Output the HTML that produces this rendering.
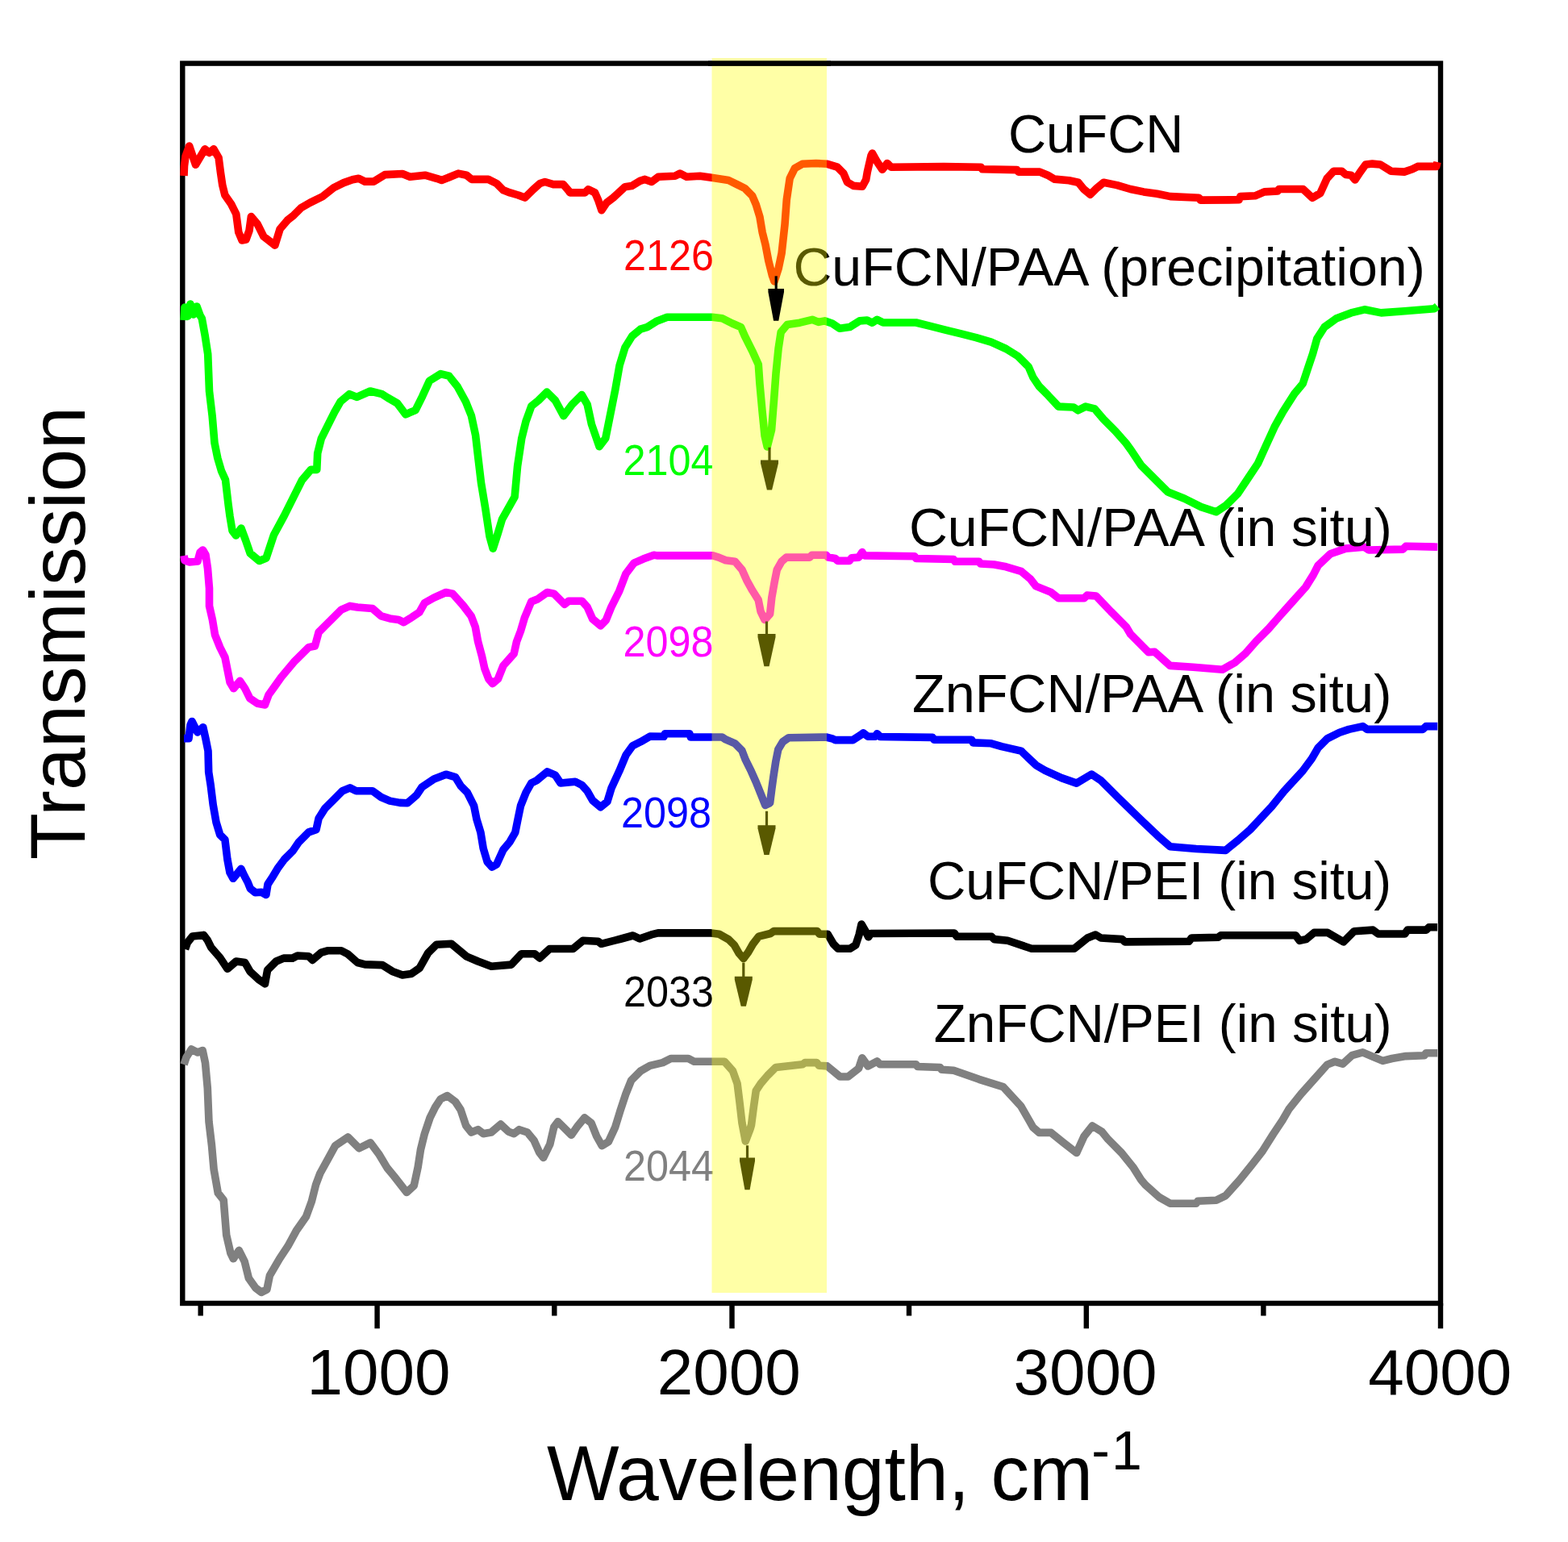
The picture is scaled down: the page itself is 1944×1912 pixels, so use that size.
<!DOCTYPE html>
<html><head><meta charset="utf-8"><title>FTIR spectra</title>
<style>html,body{margin:0;padding:0;background:#fff;} svg{display:block;}</style></head>
<body>
<svg width="1944" height="1912" viewBox="0 0 1944 1912">
<rect width="1944" height="1912" fill="#fff"/>

<g stroke="#000" stroke-width="6.4" fill="none" stroke-linecap="butt">
<rect x="226.3" y="78.6" width="1559.7" height="1537.4" stroke-linejoin="miter"/>
<line x1="248.7" y1="1616" x2="248.7" y2="1631.5"/>
<line x1="467.6" y1="1616" x2="467.6" y2="1647.3"/>
<line x1="687.3" y1="1616" x2="687.3" y2="1631.5"/>
<line x1="907.5" y1="1616" x2="907.5" y2="1647.3"/>
<line x1="1127" y1="1616" x2="1127" y2="1631.5"/>
<line x1="1346.8" y1="1616" x2="1346.8" y2="1647.3"/>
<line x1="1566.4" y1="1616" x2="1566.4" y2="1631.5"/>
<line x1="1786" y1="1616" x2="1786" y2="1647.3"/>
</g>

<polyline points="228.0,218.0 228.5,206.0 230.0,194.0 234.7,181.0 242.5,204.2 254.1,184.8 259.5,189.4 264.9,184.8 271.1,195.6 273.5,214.2 275.8,229.7 278.9,242.1 286.6,253.0 292.8,265.4 295.8,288.0 300.0,298.0 305.0,297.0 309.0,286.0 311.4,268.5 319.2,277.8 326.9,293.3 340.9,304.1 347.1,284.0 356.4,273.1 364.1,266.9 373.4,257.6 384.3,251.4 399.8,243.7 413.7,232.8 426.1,226.6 437.0,222.8 444.7,221.2 452.4,225.1 463.3,225.1 477.2,216.6 498.9,215.5 508.3,219.3 526.9,217.2 541.3,221.3 547.5,223.4 555.8,220.3 568.2,215.1 578.5,217.2 584.7,222.4 605.4,222.4 615.7,227.5 624.0,235.8 632.2,238.9 642.6,242.0 650.8,245.1 661.2,234.8 669.4,227.5 675.6,225.5 686.0,228.6 698.3,228.6 704.5,235.8 706.6,238.9 725.2,238.9 729.3,234.8 737.6,238.9 741.7,248.2 745.9,260.6 752.1,251.3 760.3,245.1 774.8,231.7 783.1,230.6 793.4,224.4 799.6,222.4 807.9,225.5 816.1,219.3 836.8,218.2 843.0,215.1 851.2,219.3 867.8,218.2 882.2,220.3 903.2,223.5 914.1,228.9 923.4,233.5 932.7,242.8 937.3,253.7 942.0,269.2 945.1,287.8 949.0,303.3 952.8,323.4 957.5,342.0 960.0,349.0 965.2,332.7 969.1,314.1 973.0,278.5 975.3,247.5 979.2,221.1 985.4,208.7 994.7,203.3 1011.7,202.5 1025.7,203.3 1038.1,207.2 1045.8,214.9 1050.5,225.8 1058.2,230.4 1069.1,231.2 1073.7,222.7 1075.3,213.4 1079.9,193.2 1081.5,190.0 1087.7,201.0 1093.9,210.3 1100.0,202.5 1104.7,207.2 1170.0,206.6 1216.3,207.3 1217.9,209.8 1260.9,210.6 1262.6,213.1 1289.0,213.1 1298.9,217.2 1307.2,222.1 1325.4,223.8 1336.9,226.3 1343.6,234.5 1351.8,241.2 1360.1,232.9 1368.3,226.3 1384.9,229.6 1401.4,234.5 1417.9,237.9 1434.5,240.3 1451.0,243.6 1486.5,245.3 1488.2,248.1 1536.1,247.8 1537.8,243.6 1556.0,242.8 1567.5,237.9 1584.0,237.0 1585.7,234.5 1615.5,234.5 1627.0,245.3 1636.9,239.5 1645.2,221.3 1653.5,212.2 1663.4,212.2 1668.3,216.4 1675.0,217.2 1679.9,223.0 1686.5,213.1 1693.1,204.0 1701.4,203.1 1711.3,204.0 1724.5,212.2 1741.1,213.1 1751.0,209.8 1757.6,206.4 1780.7,206.4 1782.0,201.0" fill="none" stroke="#ff0000" stroke-width="9.6" stroke-linejoin="round" stroke-linecap="butt"/>
<polyline points="228.0,397.0 229.0,381.0 233.0,392.0 236.0,377.0 240.0,390.0 244.0,380.0 248.0,391.0 250.3,394.9 254.0,415.1 257.7,439.0 259.5,485.0 263.2,516.3 266.0,549.3 269.8,568.0 274.5,584.0 279.5,595.0 283.0,625.0 285.0,640.0 288.0,658.0 292.6,664.0 299.0,655.0 304.6,670.0 310.1,686.0 321.5,695.5 330.0,692.0 339.5,663.3 352.4,639.4 363.4,617.4 374.4,595.3 385.4,582.4 392.8,582.4 393.7,562.2 398.3,543.8 407.5,525.4 414.9,510.7 422.2,497.9 433.2,488.7 442.4,492.4 459.0,485.0 473.7,488.7 480.4,493.0 492.5,500.0 502.9,513.8 515.1,508.6 523.7,491.3 532.4,472.3 546.3,463.6 556.7,466.2 567.1,479.2 577.5,498.2 584.4,515.6 589.6,539.8 593.0,569.3 596.5,598.8 601.7,630.0 606.9,664.6 611.2,680.2 617.3,661.2 622.5,643.8 638.1,616.1 641.6,578.0 646.8,543.3 652.0,522.5 658.9,503.4 667.6,496.5 678.0,486.1 688.4,496.5 698.8,515.6 709.2,501.7 721.3,489.6 728.2,501.7 733.4,526.0 743.0,553.7 750.8,543.3 756.0,517.3 762.9,482.6 768.1,453.2 775.0,430.7 783.7,416.8 794.1,408.1 802.4,405.6 814.8,397.9 827.2,393.2 883.0,393.2 895.4,394.8 907.8,401.0 918.6,405.6 923.3,416.5 932.6,435.1 940.3,452.1 941.9,475.4 945.0,509.5 948.1,540.5 951.2,554.0 956.6,532.7 959.7,494.0 962.0,463.0 965.1,432.0 968.2,411.8 976.0,402.5 991.5,400.2 1007.0,396.3 1014.7,399.4 1022.4,397.9 1031.7,401.0 1041.0,407.2 1053.4,405.6 1065.8,397.9 1075.1,397.1 1081.3,400.2 1087.4,396.3 1094.9,400.0 1135.8,400.0 1154.4,404.6 1173.0,409.3 1191.6,413.9 1210.2,418.6 1228.8,424.2 1247.3,432.5 1262.2,441.8 1275.2,454.8 1280.8,467.8 1288.3,479.0 1299.4,490.2 1312.4,504.1 1331.0,505.0 1336.6,508.8 1345.9,504.1 1357.1,506.9 1368.2,519.9 1383.1,534.8 1396.1,549.7 1402.4,558.3 1414.8,577.0 1431.3,593.5 1447.9,610.0 1468.5,618.3 1489.2,628.6 1507.8,634.8 1520.2,626.5 1534.6,612.1 1547.0,593.5 1559.4,574.9 1569.8,552.1 1580.1,529.4 1590.4,510.8 1604.9,488.1 1615.2,475.7 1621.4,457.1 1627.6,438.5 1632.8,419.9 1642.1,405.5 1656.5,395.1 1675.1,387.9 1691.7,383.8 1712.3,387.9 1741.2,385.8 1778.4,382.7 1782.0,379.6" fill="none" stroke="#00ff00" stroke-width="9.6" stroke-linejoin="round" stroke-linecap="butt"/>
<polyline points="228.0,689.0 229.0,695.0 235.0,697.0 245.0,696.0 248.0,685.0 251.5,682.0 255.0,688.0 257.5,705.0 259.5,729.7 259.5,751.4 263.4,768.5 266.5,787.1 272.7,802.6 278.9,815.0 282.0,830.5 285.1,846.0 289.7,853.7 297.5,844.4 303.7,853.7 309.9,866.1 319.2,872.3 328.5,873.9 333.1,861.5 340.9,850.6 348.6,839.8 364.1,821.2 382.7,802.6 390.5,801.0 395.1,784.0 402.9,776.2 412.2,766.9 423.0,756.1 433.9,751.4 443.2,753.0 461.7,754.5 472.6,763.8 483.4,766.9 494.3,768.5 500.5,771.6 508.2,766.9 519.8,759.3 526.4,747.7 538.0,741.1 552.9,734.5 561.2,736.1 574.4,751.0 584.3,764.2 589.3,777.4 592.6,795.6 597.5,813.8 600.8,828.7 605.8,841.9 610.7,847.7 617.4,841.9 624.0,825.4 637.2,810.5 640.5,795.6 645.5,782.4 650.4,765.9 658.7,746.0 666.9,742.7 678.5,734.5 686.8,736.1 700.0,749.3 705.0,745.2 721.5,745.2 728.1,752.6 734.7,767.5 744.6,775.8 751.2,769.2 757.9,752.6 767.8,732.8 776.0,711.3 786.0,698.1 797.5,693.1 810.7,688.2 814.3,688.9 883.8,688.9 891.0,691.1 899.7,694.7 911.2,696.2 919.9,706.3 925.7,719.3 932.9,732.3 940.2,743.9 943.1,758.4 948.1,768.5 954.6,761.2 956.8,741.0 960.4,720.7 963.3,706.3 969.1,696.2 974.9,691.1 1003.8,691.1 1006.7,688.2 1024.1,688.2 1026.9,691.1 1035.6,692.5 1038.5,695.4 1053.0,695.4 1055.9,691.8 1064.6,691.1 1068.9,684.6 1071.8,688.9 1133.9,689.8 1135.8,692.5 1182.3,693.5 1184.1,696.3 1213.9,696.3 1215.7,699.0 1232.5,700.0 1247.3,702.8 1265.9,708.3 1277.1,717.6 1284.5,726.9 1303.1,734.4 1312.4,741.8 1344.0,741.8 1347.8,738.1 1358.9,739.0 1377.5,758.5 1396.1,777.1 1401.7,786.4 1424.0,808.8 1431.5,808.2 1450.6,825.4 1479.3,827.3 1515.6,830.2 1530.9,821.6 1544.2,810.1 1557.6,794.8 1572.9,779.5 1586.3,764.2 1601.6,747.0 1618.8,727.9 1628.3,712.6 1634.1,701.2 1649.4,686.8 1668.5,680.1 1691.4,678.2 1697.1,682.0 1739.2,681.1 1743.0,677.3 1782.2,678.2" fill="none" stroke="#ff00ff" stroke-width="9.6" stroke-linejoin="round" stroke-linecap="butt"/>
<polyline points="228.0,915.6 234.0,915.6 236.0,899.0 238.0,894.5 244.8,907.9 251.8,901.7 254.9,915.6 258.0,931.1 258.7,957.5 261.1,973.0 264.2,997.8 268.0,1019.5 272.7,1035.0 278.9,1041.2 281.9,1065.5 285.0,1082.0 289.1,1089.3 298.9,1077.4 303.1,1086.2 307.2,1093.9 310.3,1101.7 316.5,1106.8 324.2,1106.3 329.9,1109.5 332.0,1096.5 337.1,1088.7 344.9,1075.8 352.6,1065.5 363.0,1055.2 370.3,1044.3 382.7,1031.9 392.0,1028.8 395.1,1014.8 402.9,1002.4 413.7,991.6 424.6,980.7 433.9,976.9 441.6,980.7 461.7,980.7 472.6,988.5 483.4,993.1 495.8,995.4 505.0,995.8 516.5,985.9 523.1,976.0 538.0,966.0 552.9,960.2 564.5,963.6 571.1,974.3 579.3,982.6 587.6,999.1 590.9,1015.6 595.9,1032.1 599.2,1052.0 604.1,1068.5 609.9,1075.1 615.7,1071.8 624.0,1053.6 632.2,1043.7 638.8,1032.1 642.1,1015.6 645.5,999.1 652.1,982.6 658.7,971.0 665.3,967.7 678.5,956.9 688.4,961.1 695.0,971.0 713.2,969.3 721.5,973.5 728.1,980.9 734.7,992.5 744.6,1000.7 752.9,994.1 757.9,977.6 767.8,956.1 776.0,936.3 784.3,924.7 794.2,919.8 805.8,913.1 823.0,913.3 824.5,909.7 854.8,909.7 856.3,914.0 895.3,914.0 899.7,916.9 911.2,921.9 919.9,930.6 924.3,942.2 931.5,956.7 937.3,969.7 943.1,984.1 948.8,998.5 954.6,995.7 956.8,978.4 959.0,962.4 961.9,943.6 964.8,929.2 970.5,919.8 977.8,914.7 1024.1,914.0 1032.7,916.2 1035.6,917.6 1057.3,917.6 1067.4,911.1 1070.3,908.9 1076.1,913.3 1084.8,913.3 1087.4,909.8 1091.2,913.5 1156.2,914.4 1158.1,917.2 1204.6,917.2 1206.4,920.9 1228.8,921.8 1241.8,925.6 1265.9,931.1 1284.5,948.8 1295.7,955.3 1316.1,964.6 1334.7,971.1 1353.3,960.0 1364.5,967.4 1386.8,989.7 1414.7,1016.7 1435.3,1036.3 1450.6,1049.7 1483.1,1052.5 1519.4,1054.4 1534.7,1042.0 1550.0,1028.6 1576.7,1000.0 1592.0,980.9 1615.0,956.0 1626.4,940.7 1634.1,927.3 1645.5,915.9 1660.8,908.2 1672.3,904.4 1689.5,900.6 1695.2,904.4 1764.0,904.4 1767.9,900.6 1782.2,900.6" fill="none" stroke="#0000ff" stroke-width="9.6" stroke-linejoin="round" stroke-linecap="butt"/>
<polyline points="229.5,1177.0 232.4,1168.7 238.6,1161.0 252.5,1159.4 257.2,1165.6 261.8,1174.9 272.7,1187.3 282.0,1201.3 292.8,1192.0 303.7,1193.5 309.9,1204.4 320.7,1214.5 328.5,1219.9 331.6,1202.8 342.4,1192.0 351.7,1188.1 362.6,1188.1 368.8,1185.0 382.7,1185.8 387.4,1190.4 398.2,1181.1 406.0,1178.8 423.0,1178.8 430.8,1182.7 443.2,1193.5 452.4,1195.9 474.1,1196.6 486.5,1204.4 498.9,1209.0 509.8,1207.5 520.3,1200.2 530.7,1181.7 541.0,1171.3 559.6,1170.3 578.2,1185.8 592.6,1192.0 609.2,1198.2 634.0,1196.1 646.4,1182.7 662.9,1182.7 669.1,1187.9 681.5,1176.5 710.4,1176.5 722.8,1166.2 741.4,1167.2 745.5,1170.3 770.3,1164.0 784.8,1160.0 793.1,1164.0 807.5,1158.9 815.8,1156.9 881.9,1156.9 891.6,1158.2 903.1,1164.7 910.4,1171.9 916.2,1182.1 921.9,1188.5 927.7,1180.6 933.5,1170.5 940.7,1161.1 955.2,1157.5 959.5,1154.6 1013.1,1154.6 1016.0,1158.2 1026.1,1158.2 1033.3,1170.5 1039.1,1176.3 1053.6,1176.3 1060.8,1171.9 1065.1,1158.9 1068.0,1146.0 1073.8,1156.0 1076.7,1161.8 1079.6,1157.5 1183.1,1157.0 1186.4,1161.3 1229.3,1161.3 1232.6,1164.6 1249.2,1166.3 1278.9,1176.2 1331.8,1176.2 1348.3,1163.0 1358.3,1159.0 1364.9,1163.0 1391.3,1164.6 1394.6,1167.9 1474.0,1167.3 1477.3,1163.0 1510.3,1162.3 1513.6,1159.7 1606.2,1159.7 1611.2,1166.3 1619.4,1164.6 1629.3,1156.4 1645.9,1156.4 1665.7,1167.9 1678.9,1154.7 1702.1,1153.1 1708.7,1158.0 1741.7,1158.0 1745.0,1153.1 1768.2,1153.1 1771.5,1149.8 1782.0,1149.8" fill="none" stroke="#000000" stroke-width="9.6" stroke-linejoin="round" stroke-linecap="butt"/>
<polyline points="228.0,1320.0 231.0,1311.0 237.3,1301.0 245.0,1305.0 251.2,1302.5 254.5,1318.0 257.3,1349.3 259.0,1390.9 262.5,1420.4 265.1,1449.8 270.3,1479.3 277.2,1488.0 280.7,1531.3 285.9,1553.8 289.3,1560.8 296.3,1550.4 303.2,1564.2 308.4,1585.0 317.1,1597.2 324.0,1602.4 330.9,1598.9 334.4,1581.6 346.5,1560.8 356.9,1545.2 367.3,1526.1 379.4,1508.8 386.4,1489.7 391.6,1468.9 396.8,1455.0 405.4,1439.4 415.8,1420.4 431.4,1410.0 445.3,1423.8 459.2,1416.9 469.6,1430.8 480.0,1448.1 488.6,1458.5 504.2,1478.5 513.2,1470.2 518.2,1447.0 521.5,1425.5 526.4,1405.7 533.1,1385.9 539.7,1372.6 546.3,1362.7 554.5,1358.6 564.5,1366.0 571.1,1376.0 577.7,1395.8 584.3,1404.0 592.6,1400.7 599.2,1405.7 609.1,1404.0 620.7,1394.1 630.6,1403.2 637.2,1405.7 643.8,1400.7 653.7,1404.0 662.0,1414.0 668.6,1428.8 673.6,1435.5 681.8,1418.9 686.8,1397.4 691.7,1390.8 698.3,1397.4 708.3,1407.4 716.5,1395.8 724.8,1385.9 733.1,1392.5 739.7,1409.0 746.3,1420.6 754.5,1415.6 762.8,1397.4 769.4,1375.9 776.0,1356.1 782.6,1339.6 794.2,1328.0 805.8,1321.4 821.6,1317.6 831.7,1312.5 853.4,1312.5 860.6,1316.2 898.2,1316.2 908.4,1327.7 914.1,1343.6 917.0,1366.8 919.9,1392.0 924.3,1415.0 930.0,1400.0 931.5,1395.0 934.4,1372.6 937.3,1352.3 943.1,1343.6 951.7,1333.5 961.9,1323.4 995.1,1319.8 998.0,1317.6 1012.5,1317.6 1015.4,1321.2 1025.5,1321.9 1041.4,1335.0 1051.5,1335.0 1064.6,1324.8 1068.9,1311.8 1076.1,1321.9 1087.4,1316.0 1091.2,1319.8 1135.8,1319.8 1137.6,1322.5 1165.5,1323.5 1167.4,1326.3 1182.3,1327.2 1195.3,1331.8 1213.9,1338.3 1243.6,1347.6 1265.9,1371.8 1280.8,1397.8 1288.3,1404.4 1303.1,1404.4 1318.0,1416.4 1334.7,1429.5 1344.0,1409.0 1354.3,1396.0 1366.3,1403.4 1373.8,1412.7 1390.5,1429.5 1405.4,1448.1 1414.7,1462.9 1420.0,1469.2 1437.2,1484.5 1450.6,1492.2 1483.1,1492.2 1485.0,1489.3 1507.9,1488.3 1519.4,1482.6 1536.6,1463.5 1551.9,1444.4 1565.3,1427.2 1578.6,1406.1 1590.1,1388.9 1597.8,1375.6 1613.0,1356.5 1630.2,1337.3 1645.5,1320.1 1655.1,1316.3 1664.7,1319.2 1676.1,1308.7 1689.5,1304.8 1702.9,1310.6 1714.3,1315.4 1725.8,1312.5 1743.0,1309.6 1765.9,1308.7 1767.9,1305.8 1782.2,1305.8" fill="none" stroke="#808080" stroke-width="9.6" stroke-linejoin="round" stroke-linecap="butt"/>

<g font-family="'Liberation Sans', Arial, Helvetica, sans-serif" font-size="66" fill="#000">
<text x="1250" y="189" textLength="217.3" lengthAdjust="spacingAndGlyphs">CuFCN</text>
<text x="983.5" y="354" textLength="783.3" lengthAdjust="spacingAndGlyphs">CuFCN/PAA (precipitation)</text>
<text x="1127" y="676.7" textLength="598.8" lengthAdjust="spacingAndGlyphs">CuFCN/PAA (in situ)</text>
<text x="1131" y="883.2" textLength="594.3" lengthAdjust="spacingAndGlyphs">ZnFCN/PAA (in situ)</text>
<text x="1149.9" y="1114.8" textLength="575.3" lengthAdjust="spacingAndGlyphs">CuFCN/PEI (in situ)</text>
<text x="1157.7" y="1292" textLength="568" lengthAdjust="spacingAndGlyphs">ZnFCN/PEI (in situ)</text>
</g>
<g font-family="'Liberation Sans', Arial, Helvetica, sans-serif" font-size="53">
<text x="773" y="335.3" fill="#ff0000" textLength="112" lengthAdjust="spacingAndGlyphs">2126</text>
<text x="772.4" y="588.9" fill="#00ff00" textLength="112" lengthAdjust="spacingAndGlyphs">2104</text>
<text x="772.4" y="813.8" fill="#ff00ff" textLength="112" lengthAdjust="spacingAndGlyphs">2098</text>
<text x="770" y="1026.4" fill="#0000ff" textLength="112" lengthAdjust="spacingAndGlyphs">2098</text>
<text x="773" y="1247.6" fill="#000000" textLength="112" lengthAdjust="spacingAndGlyphs">2033</text>
<text x="773" y="1463.7" fill="#808080" textLength="112" lengthAdjust="spacingAndGlyphs">2044</text>
</g>

<line x1="954" y1="554.8" x2="954" y2="572.5" stroke="#000" stroke-width="3.2"/><polygon points="943.0,570.5 965.0,570.5 965.0,574.5 957.1,607.5 950.9,607.5 943.0,574.5" fill="#000"/>
<line x1="950.5" y1="770.5" x2="950.5" y2="788" stroke="#000" stroke-width="3.2"/><polygon points="939.5,786.0 961.5,786.0 961.5,790.0 953.6,826.2 947.4,826.2 939.5,790.0" fill="#000"/>
<line x1="950.5" y1="1005.8" x2="950.5" y2="1025.3" stroke="#000" stroke-width="3.2"/><polygon points="939.5,1023.3 961.5,1023.3 961.5,1027.3 953.6,1060.1 947.4,1060.1 939.5,1027.3" fill="#000"/>
<line x1="921.8" y1="1193.6" x2="921.8" y2="1212.7" stroke="#000" stroke-width="3.2"/><polygon points="910.8,1210.7 932.8,1210.7 932.8,1214.7 924.9,1247.8 918.7,1247.8 910.8,1214.7" fill="#000"/>
<line x1="926.5" y1="1420.3" x2="926.5" y2="1437.5" stroke="#000" stroke-width="3.2"/><polygon points="917.0,1435.5 936.0,1435.5 936.0,1439.5 929.6,1475.3 923.4,1475.3 917.0,1439.5" fill="#000"/>
<rect x="882.5" y="72" width="142.5" height="1531" fill="#ffff00" fill-opacity="0.35"/>
<line x1="878" y1="78.6" x2="1030" y2="78.6" stroke="#000" stroke-width="6.4"/>
<line x1="962.2" y1="342.3" x2="962.2" y2="360" stroke="#000" stroke-width="3.2"/><polygon points="952.4,358.0 972.0,358.0 972.0,362.0 965.3,397.7 959.1,397.7 952.4,362.0" fill="#000"/>

<g font-family="'Liberation Sans', Arial, Helvetica, sans-serif" font-size="80" fill="#000" text-anchor="middle">
<text x="469.6" y="1729.3">1000</text>
<text x="903.8" y="1729.3">2000</text>
<text x="1345.4" y="1729.3">3000</text>
<text x="1785.3" y="1729.3">4000</text>
</g>
<g font-family="'Liberation Sans', Arial, Helvetica, sans-serif" fill="#000">
<text x="678" y="1859.6" font-size="97" textLength="677" lengthAdjust="spacingAndGlyphs">Wavelength, cm</text>
<text y="1822" font-size="68"><tspan x="1353.3">-</tspan><tspan x="1377.9">1</tspan></text>
<text transform="translate(105.2,785.1) rotate(-90)" text-anchor="middle" font-size="97" textLength="562.3" lengthAdjust="spacingAndGlyphs">Transmission</text>
</g>

</svg>
</body></html>
